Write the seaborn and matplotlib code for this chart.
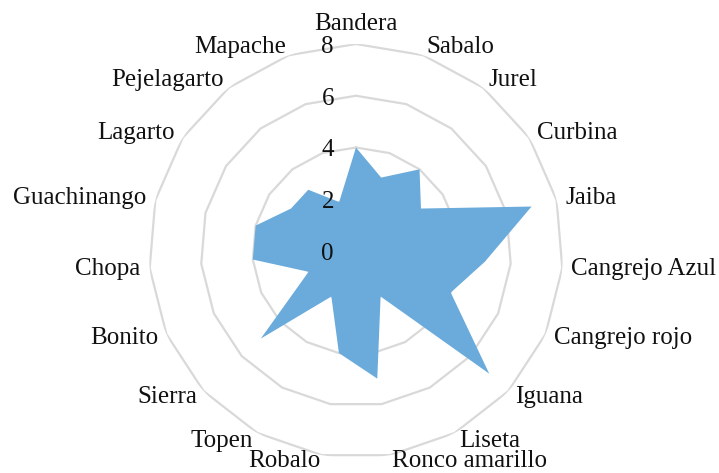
import numpy as np
import matplotlib
matplotlib.use("Agg")
from matplotlib import pyplot as plt
from matplotlib.transforms import offset_copy
import seaborn as sns

# species counts, clockwise starting from the top
species = ["Bandera", "Sabalo", "Jurel", "Curbina", "Jaiba", "Cangrejo Azul",
           "Cangrejo rojo", "Iguana", "Liseta", "Ronco amarillo", "Robalo",
           "Topen", "Sierra", "Bonito", "Chopa", "Guachinango", "Lagarto",
           "Pejelagarto", "Mapache"]
counts = [4, 3, 4, 3, 7, 5, 4, 7, 2, 5, 4, 2, 5, 2, 4, 4, 3, 3, 2]
ring_ticks = [0, 2, 4, 6, 8]

fill_color = "#6aabdc"
grid_color = "#d9d9d9"
text_color = "#111111"

sns.set_style("white")
plt.rcParams["font.family"] = ["Liberation Serif", "DejaVu Serif"]

n = len(species)
theta = np.linspace(0, 2 * np.pi, n, endpoint=False)
theta_closed = np.append(theta, theta[0])

fig = plt.figure(figsize=(7.19, 4.73), dpi=100)
ax = fig.add_axes([0.2072, 0.0317, 0.5758, 0.8753], projection="polar")
ax.set_theta_zero_location("N")
ax.set_theta_direction(-1)
ax.set_ylim(0, ring_ticks[-1])

# polygon gridlines like excel radar charts
for r in ring_ticks[1:]:
    ax.plot(theta_closed, np.full(n + 1, r), color=grid_color, lw=1.6, zorder=1)

vals = np.append(counts, counts[0])
ax.fill(theta_closed, vals, color=fill_color, lw=0, zorder=2)

ax.grid(False)
ax.spines["polar"].set_visible(False)
ax.set_xticks([])
ax.set_yticks([])

fs = 18
# radial labels just left of the vertical axis
lab_tr = offset_copy(ax.transData, fig=fig, x=-22, y=-3, units="dots")
for r in ring_ticks:
    ax.text(0, r, str(r), transform=lab_tr, ha="right", va="center",
            fontsize=fs, color=text_color, zorder=3)

# category labels outside the outer ring
r_lab = ring_ticks[-1] + 0.35
low_tr = offset_copy(ax.transData, fig=fig, x=0, y=3, units="dots")
for ang, name in zip(theta, species):
    s = np.sin(ang)
    if s > 0.05:
        ha = "left"
    elif s < -0.05:
        ha = "right"
    else:
        ha = "center"
    va = "bottom" if np.cos(ang) > 0.99 else "center"
    tr = low_tr if np.cos(ang) < -0.95 else ax.transData
    ax.text(ang, r_lab, name, ha=ha, va=va, fontsize=fs, color=text_color,
            transform=tr)

fig.savefig("out.png", dpi=100)
